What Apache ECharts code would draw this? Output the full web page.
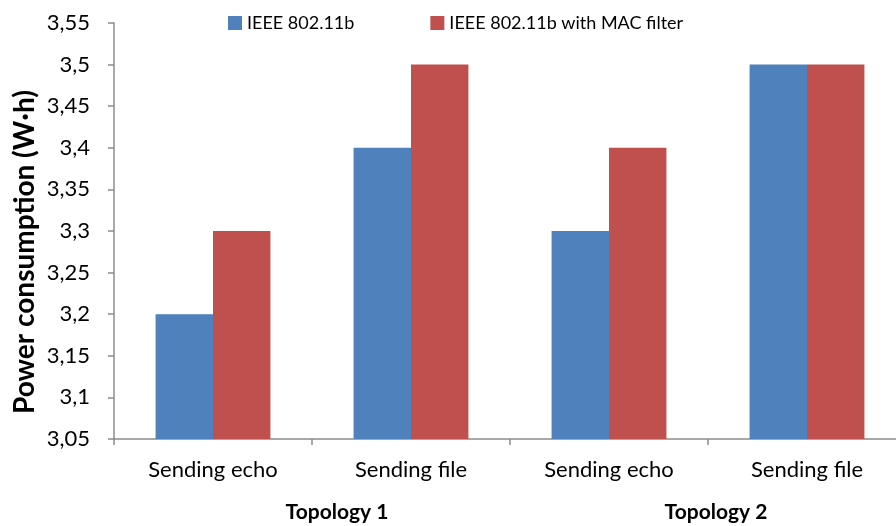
<!DOCTYPE html>
<html>
<head>
<meta charset="utf-8">
<script src="https://cdn.jsdelivr.net/npm/echarts@6/dist/echarts.min.js"></script>
<style>
  html, body { margin: 0; padding: 0; background: #fff; }
  #chart { width: 896px; height: 526px; }
</style>
</head>
<body>
<div id="chart"></div>
<script>
// Scenario categories along the x axis
const categories = ['Sending echo', 'Sending file', 'Sending echo', 'Sending file'];
// Topology groups spanning two categories each
const groupLabels = ['Topology 1', 'Topology 2'];
// Energy use in W·h
const plainValues = [3.2, 3.4, 3.3, 3.5];
const macFilterValues = [3.3, 3.5, 3.4, 3.5];
const seriesNames = ['IEEE 802.11b', 'IEEE 802.11b with MAC filter'];
const yTitle = 'Power consumption (W·h)';

const FONT = 'Lato, "Liberation Sans", sans-serif';
const AXIS_GREY = '#8c8c8c';
const chart = echarts.init(document.getElementById('chart'));

chart.setOption({
  animation: false,
  textStyle: { fontFamily: FONT },
  legend: {
    top: 14,
    left: 228,
    padding: 0,
    itemWidth: 14,
    itemHeight: 14,
    itemGap: 76,
    icon: 'rect',
    textStyle: { fontSize: 18, color: '#000', fontFamily: FONT },
    data: seriesNames
  },
  // plot area runs slightly past the right edge of the canvas
  grid: { left: 114, top: 23, width: 792, bottom: 87, containLabel: false, outerBoundsMode: 'none' },
  xAxis: {
    type: 'category',
    data: categories,
    axisLine: { lineStyle: { color: AXIS_GREY, width: 1.5 } },
    axisTick: { show: true, length: 6, inside: false, lineStyle: { color: AXIS_GREY, width: 1.5 } },
    axisLabel: { color: '#000', fontSize: 22, margin: 20, fontFamily: FONT }
  },
  yAxis: {
    type: 'value',
    min: 3.05,
    max: 3.55,
    interval: 0.05,
    axisLine: { show: true, lineStyle: { color: AXIS_GREY, width: 1.5 } },
    axisTick: { show: true, length: 6, lineStyle: { color: AXIS_GREY, width: 1.5 } },
    splitLine: { show: false },
    axisLabel: {
      color: '#000',
      fontSize: 22,
      margin: 24,
      fontFamily: FONT,
      formatter: v => String(+v.toFixed(2)).replace('.', ',')
    }
  },
  series: [
    {
      name: seriesNames[0],
      type: 'bar',
      data: plainValues,
      itemStyle: { color: '#4F81BD' },
      barGap: '0%',
      barCategoryGap: '42%'
    },
    {
      name: seriesNames[1],
      type: 'bar',
      data: macFilterValues,
      itemStyle: { color: '#C0504D' },
      barGap: '0%',
      barCategoryGap: '42%'
    }
  ],
  graphic: [
    {
      // vertical axis title, sitting a little below the plot's midline
      type: 'text', x: 25, y: 252, rotation: Math.PI / 2,
      style: { text: yTitle, font: 'bold 28px ' + FONT, fill: '#000', align: 'center', verticalAlign: 'middle' }
    },
    {
      type: 'text', x: 337, y: 512,
      style: { text: groupLabels[0], font: 'bold 21px ' + FONT, fill: '#000', align: 'center', verticalAlign: 'middle' }
    },
    {
      type: 'text', x: 716, y: 512,
      style: { text: groupLabels[1], font: 'bold 21px ' + FONT, fill: '#000', align: 'center', verticalAlign: 'middle' }
    }
  ]
});
</script>
</body>
</html>
